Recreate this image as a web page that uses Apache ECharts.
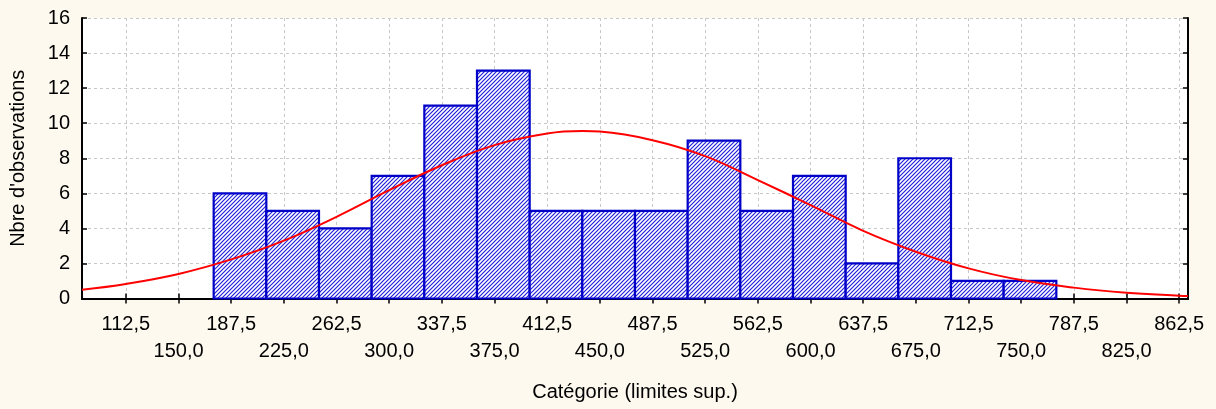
<!DOCTYPE html>
<html>
<head>
<meta charset="utf-8">
<script src="https://cdn.jsdelivr.net/npm/echarts@6/dist/echarts.min.js"></script>
<style>
  html, body { margin: 0; padding: 0; background: #fdf9ef; }
  #chart { width: 1216px; height: 409px; }
</style>
</head>
<body>
<div id="chart"></div>
<script>
// histogram bins (lower/upper edges) and counts
const binEdges = [175, 212.5, 250, 287.5, 325, 362.5, 400, 437.5, 475, 512.5, 550, 587.5, 625, 662.5, 700, 737.5, 775]
const counts = [6, 5, 4, 7, 11, 13, 5, 5, 5, 9, 5, 7, 2, 8, 1, 1]

// x axis ticks (upper limits)
const tickValues = [112.5, 150, 187.5, 225, 262.5, 300, 337.5, 375, 412.5, 450, 487.5, 525, 562.5, 600, 637.5, 675, 712.5, 750, 787.5, 825, 862.5]
const tickLabels = ['112,5', '150,0', '187,5', '225,0', '262,5', '300,0', '337,5', '375,0', '412,5', '450,0', '487,5', '525,0', '562,5', '600,0', '637,5', '675,0', '712,5', '750,0', '787,5', '825,0', '862,5']

// fitted normal curve
const curveX = [81.25, 112.5, 150, 187.5, 225, 262.5, 300, 337.5, 375, 412.5, 437.5, 450, 487.5, 525, 562.5, 600, 637.5, 675, 712.5, 750, 787.5, 825, 862.5, 868.75]
const curveY = [0.5, 0.83, 1.4, 2.23, 3.3, 4.66, 6.18, 7.6, 8.75, 9.41, 9.55, 9.52, 9.03, 8.12, 6.75, 5.33, 3.86, 2.67, 1.72, 1.05, 0.62, 0.33, 0.16, 0.14]

const xMin = 81.25
const xMax = 868.75
const font = "'Liberation Sans', Arial, sans-serif"

// hatch pattern for the bars
function makeHatch() {
  const c = document.createElement('canvas')
  c.width = 4
  c.height = 4
  const ctx = c.getContext('2d')
  ctx.fillStyle = '#ffffff'
  ctx.fillRect(0, 0, 4, 4)
  ctx.strokeStyle = '#2222d8'
  ctx.lineWidth = 1.2
  ctx.beginPath()
  ctx.moveTo(-1, 5); ctx.lineTo(5, -1)
  ctx.moveTo(-1, 1); ctx.lineTo(1, -1)
  ctx.moveTo(3, 5); ctx.lineTo(5, 3)
  ctx.stroke()
  return c
}
const hatch = makeHatch()

const barData = counts.map((n, i) => [binEdges[i], binEdges[i + 1], n])

const chart = echarts.init(document.getElementById('chart'))
chart.setOption({
  backgroundColor: '#fdf9ef',
  animation: false,
  textStyle: { fontFamily: font },
  grid: { left: 82, right: 28, top: 18, bottom: 110.5, show: true, backgroundColor: '#ffffff', borderWidth: 0 },
  xAxis: [
    {
      type: 'value',
      min: xMin,
      max: xMax,
      name: 'Catégorie (limites sup.)',
      nameLocation: 'middle',
      nameGap: 84,
      nameTextStyle: { fontSize: 20, color: '#000', fontFamily: font },
      axisLine: { lineStyle: { color: '#000', width: 2 } },
      axisTick: { inside: true, length: 5, customValues: tickValues, lineStyle: { color: '#000', width: 1.5 } },
      axisLabel: {
        customValues: tickValues,
        interval: 0,
        margin: 12,
        fontSize: 20,
        lineHeight: 27,
        color: '#000',
        fontFamily: font,
        formatter: (v) => {
          const i = tickValues.indexOf(v)
          return i % 2 ? '\n' + tickLabels[i] : tickLabels[i]
        }
      },
      splitLine: { show: true, lineStyle: { color: '#c8c8c8', type: [3, 3], width: 1 } }
    },
    {
      type: 'value',
      position: 'top',
      min: xMin,
      max: xMax,
      axisLine: { show: true, lineStyle: { color: '#000', width: 2 } },
      axisTick: { show: true, inside: true, length: 5, customValues: tickValues, lineStyle: { color: '#000', width: 1.5 } },
      axisLabel: { show: false },
      splitLine: { show: false }
    }
  ],
  yAxis: [
    {
      type: 'value',
      min: 0,
      max: 16,
      interval: 2,
      name: "Nbre d'observations",
      nameLocation: 'middle',
      nameGap: 54,
      nameTextStyle: { fontSize: 20, color: '#000', fontFamily: font },
      axisLine: { show: true, lineStyle: { color: '#000', width: 2 } },
      axisTick: { show: true, inside: true, length: 5, lineStyle: { color: '#000', width: 1.5 } },
      axisLabel: { margin: 12, fontSize: 20, color: '#000', fontFamily: font },
      splitLine: { show: true, lineStyle: { color: '#c8c8c8', type: [3, 3], width: 1 } }
    },
    {
      type: 'value',
      position: 'right',
      min: 0,
      max: 16,
      interval: 2,
      axisLine: { show: true, lineStyle: { color: '#000', width: 2 } },
      axisTick: { show: true, inside: true, length: 5, lineStyle: { color: '#000', width: 1.5 } },
      axisLabel: { show: false },
      splitLine: { show: false }
    }
  ],
  series: [
    {
      type: 'custom',
      xAxisIndex: 0,
      yAxisIndex: 0,
      data: barData,
      encode: { x: [0, 1], y: 2 },
      renderItem: (params, api) => {
        const p0 = api.coord([api.value(0), api.value(2)])
        const p1 = api.coord([api.value(1), 0])
        return {
          type: 'rect',
          shape: { x: p0[0], y: p0[1], width: p1[0] - p0[0], height: p1[1] - p0[1] },
          style: { fill: { image: hatch, repeat: 'repeat' }, stroke: '#0000c8', lineWidth: 2.2 }
        }
      },
      z: 2
    },
    {
      type: 'line',
      xAxisIndex: 0,
      yAxisIndex: 0,
      data: curveX.map((x, i) => [x, curveY[i]]),
      smooth: 0.4,
      showSymbol: false,
      lineStyle: { color: '#ff0000', width: 2 },
      clip: true,
      z: 3
    }
  ]
})
</script>
</body>
</html>
